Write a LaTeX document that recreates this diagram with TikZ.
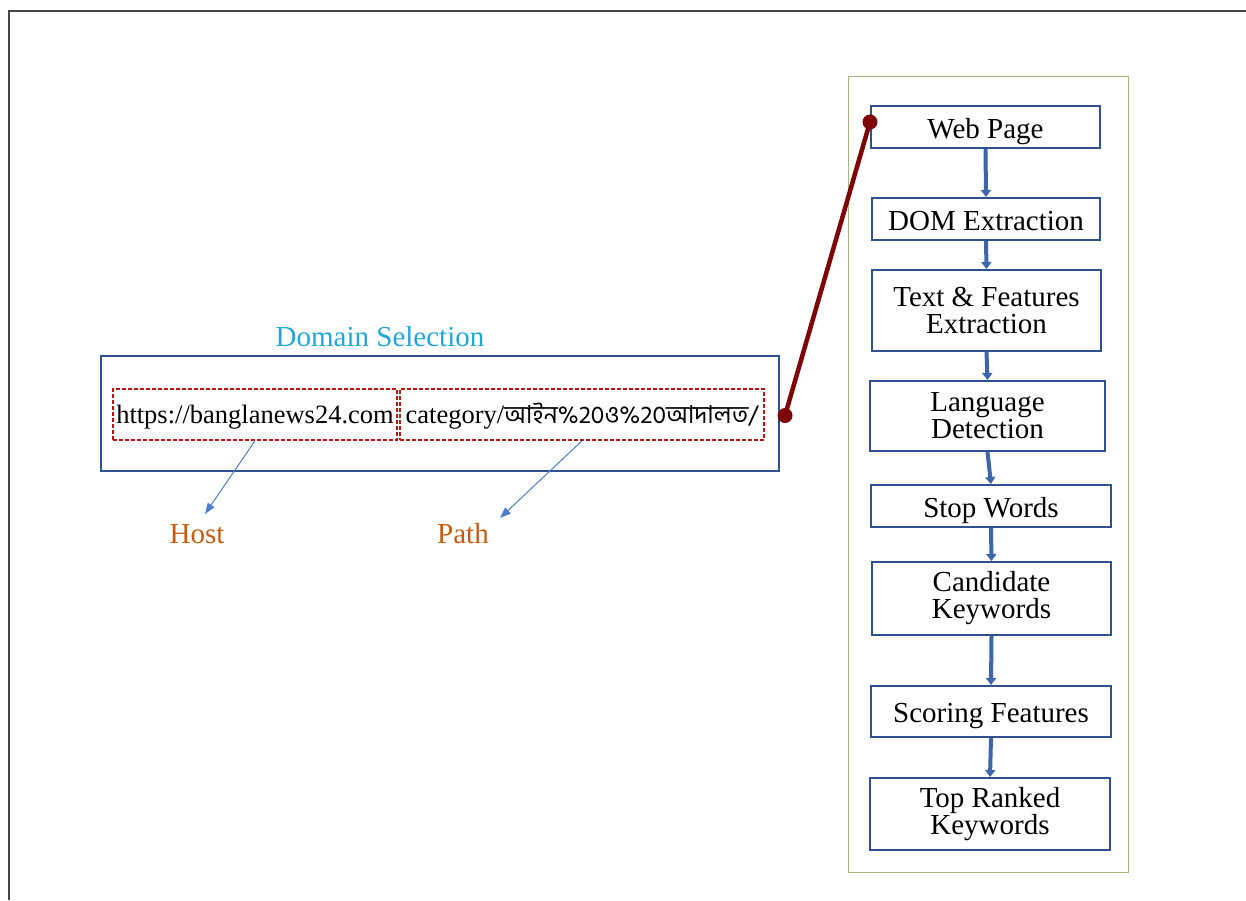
\documentclass[tikz,border=0pt]{standalone}
\usepackage{fontspec}
\setmainfont{Liberation Serif}
\newfontfamily\bnfont[Script=Bengali]{Hind Siliguri}
\usetikzlibrary{arrows.meta}

\definecolor{framegray}{RGB}{70,70,70}
\definecolor{boxblue}{RGB}{47,82,143}
\definecolor{flowblue}{RGB}{62,100,170}
\definecolor{thinblue}{RGB}{80,125,200}
\definecolor{panelgreen}{RGB}{165,185,125}
\definecolor{dashred}{RGB}{185,20,20}
\definecolor{linkred}{RGB}{125,5,5}
\definecolor{titlecyan}{RGB}{35,165,215}
\definecolor{labelorange}{RGB}{197,90,17}

\tikzset{
  stepbox/.style={draw=boxblue, line width=2, fill=white, inner sep=0,
    align=center, font=\fontsize{29}{27}\selectfont},
  oneline/.style={text height=24, text depth=2},
  urlbox/.style={draw=dashred, line width=1.5, dash pattern=on 4 off 2,
    inner sep=0, minimum height=51, text height=19, text depth=2,
    font=\fontsize{26.5}{28}\selectfont},
  flow/.style={flowblue, line width=4, -{Triangle[length=7, width=10]}},
  pointer/.style={thinblue, line width=1, -{Triangle[length=11, width=8]}},
  label/.style={inner sep=0, font=\fontsize{29}{30}\selectfont},
}

\begin{document}
\begin{tikzpicture}[x=1pt, y=-1pt]
\useasboundingbox (0,0) rectangle (1246,900);

% outer frame (top and left edges)
\draw[framegray, line width=2.5] (9,900) -- (9,11) -- (1246,11);

% right panel holding the pipeline
\node[draw=panelgreen, line width=1, minimum width=280, minimum height=796,
      inner sep=0] (panel) at (988,474) {};

% domain selection box with the URL split into host and path
\node[draw=boxblue, line width=2, minimum width=678, minimum height=115,
      inner sep=0] (domain) at (440,413.5) {};
\node[label, text=titlecyan] (dsel) at (380,337) {Domain Selection};
\node[urlbox, minimum width=284] (host) at (255,414.5) {https://banglanews24.com};
\node[urlbox, minimum width=364] (path) at (582,414.5)
  {category/{\bnfont\fontsize{24.7}{28}\selectfont আইন\%20ও\%20আদালত/}};

\node[label, text=labelorange] (hlab) at (197,534) {Host};
\node[label, text=labelorange] (plab) at (463,534) {Path};
\coordinate (hend) at (205,514);
\coordinate (pend) at (500,518);
\draw[pointer] (host.south) -- (hend);
\draw[pointer] (path.south) -- (pend);

% pipeline steps
\node[stepbox, oneline, minimum width=229, minimum height=42] (b1) at (985.5,127) {Web Page};
\node[stepbox, oneline, minimum width=228, minimum height=42] (b2) at (986,219) {DOM Extraction};
\node[stepbox, minimum width=229, minimum height=81] (b3) at (986.5,310.5) {Text \& Features\\Extraction};
\node[stepbox, minimum width=235, minimum height=70] (b4) at (987.5,416) {Language\\Detection};
\node[stepbox, oneline, minimum width=240, minimum height=42] (b5) at (991,506) {Stop Words};
\node[stepbox, minimum width=239, minimum height=73] (b6) at (991.5,598.5) {Candidate\\Keywords};
\node[stepbox, oneline, minimum width=240, minimum height=51] (b7) at (991,711.5) {Scoring Features};
\node[stepbox, minimum width=240, minimum height=72] (b8) at (990,814) {Top Ranked\\Keywords};

\foreach \a/\b in {b1/b2,b2/b3,b3/b4,b4/b5,b5/b6,b6/b7,b7/b8}
  \draw[flow] (\a.south) -- (\b.north);

% link from the URL to the first pipeline step
\coordinate (ulink) at ([xshift=5,yshift=-2]domain.east);
\coordinate (wlink) at ([yshift=5]b1.west);
\draw[linkred, line width=4.5] (ulink) -- (wlink);
\fill[linkred] (ulink) circle (7.5);
\fill[linkred] (wlink) circle (7.5);
\end{tikzpicture}
\end{document}
